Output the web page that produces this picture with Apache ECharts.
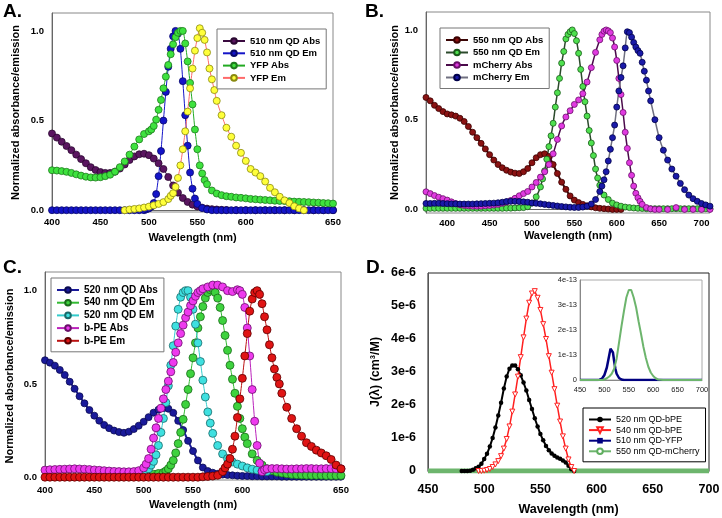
<!DOCTYPE html>
<html>
<head>
<meta charset="utf-8">
<script src="https://cdn.jsdelivr.net/npm/echarts@6/dist/echarts.min.js"></script>
<style>html,body{margin:0;padding:0;background:#fff}#chart{width:722px;height:518px}</style>
</head>
<body>
<div id="chart"></div>
<script>
// ---- tick labels ----
var ticksA = [400, 450, 500, 550, 600, 690];   // last label of panel A sits at the right edge
var ticksC = [400, 450, 500, 550, 600, 700];
var tickTextAC = ['400', '450', '500', '550', '600', '650'];
var yTicksNorm = [0, 0.5, 1.0];

// ---- panel A: 510 nm QD / YFP  [nm, normalized] ----
var aQdAbs = [[400,.428],[405,.405],[410,.382],[415,.358],[420,.335],[425,.31],[430,.285],[435,.262],[440,.24],[445,.224],[450,.213],[455,.208],[460,.208],[465,.215],[470,.232],[475,.255],[480,.28],[485,.30],[490,.312],[495,.315],[500,.307],[505,.288],[510,.262],[515,.23],[520,.185],[525,.138],[530,.098],[535,.068],[540,.046],[545,.031],[550,.021],[555,.014],[560,.009],[565,.006],[570,.004],[575,.002],[580,.001],[590,0],[600,0],[610,0],[620,0],[630,0],[640,0],[650,0],[660,0],[670,0],[680,0],[690,0]];
var aQdEm = [[400,0],[405,0],[410,0],[415,0],[420,0],[425,0],[430,0],[435,0],[440,0],[445,0],[450,0],[455,0],[460,0],[465,0],[470,0],[475,0],[480,0],[485,0],[490,0],[495,0],[497.5,.005],[500,.01],[502.5,.02],[505,.04],[507.5,.09],[510,.19],[512.5,.33],[515,.5],[517.5,.66],[520,.8],[522.5,.9],[525,.97],[527.5,1.0],[530,.985],[532.5,.9],[535,.72],[537.5,.53],[540,.36],[542.5,.21],[545,.12],[547.5,.065],[550,.035],[555,.012],[560,.004],[565,0],[570,0],[575,0],[580,0],[585,0],[590,0],[595,0],[600,0],[605,0],[610,0],[615,0],[620,0],[625,0],[630,0],[635,0],[640,0],[645,0],[650,0],[655,0],[660,0],[665,0],[670,0],[675,0],[680,0],[685,0],[690,0]];
var aYfpAbs = [[400,.223],[405,.221],[410,.218],[415,.214],[420,.208],[425,.2],[430,.193],[435,.187],[440,.183],[445,.182],[450,.184],[455,.19],[460,.198],[465,.215],[470,.24],[475,.272],[480,.31],[485,.355],[490,.395],[495,.425],[500,.44],[502.5,.45],[505,.47],[507.5,.505],[510,.56],[512.5,.615],[515,.68],[517.5,.745],[520,.81],[522.5,.87],[525,.925],[527.5,.965],[530,.99],[532.5,1.0],[535,1.0],[537.5,.93],[540,.83],[542.5,.71],[545,.59],[547.5,.45],[550,.34],[552.5,.25],[555,.205],[557.5,.168],[560,.145],[565,.11],[570,.093],[575,.084],[580,.078],[585,.075],[590,.071],[595,.069],[600,.066],[605,.063],[610,.061],[615,.059],[620,.057],[625,.055],[630,.053],[635,.052],[640,.051],[645,.05],[650,.048],[655,.047],[660,.046],[665,.045],[670,.043],[675,.042],[680,.04],[685,.039],[690,.037]];
var aYfpEm = [[475,0],[480,.004],[485,.007],[490,.01],[495,.015],[500,.02],[505,.027],[510,.035],[515,.045],[520,.062],[522.5,.08],[525,.095],[527.5,.13],[530,.18],[532.5,.25],[535,.34],[537.5,.44],[540,.55],[542.5,.68],[545,.79],[547.5,.89],[550,.96],[552.5,1.015],[555,.99],[557.5,.95],[560,.88],[562.5,.79],[565,.73],[567.5,.67],[570,.61],[575,.53],[580,.46],[585,.41],[590,.36],[595,.32],[600,.275],[605,.23],[610,.21],[615,.19],[620,.16],[625,.125],[630,.1],[635,.075],[640,.055],[645,.04],[650,.022],[655,.01],[660,0]];

// ---- panel B: 550 nm QD / mCherry ----
var bQdAbs = [[375,.624],[380,.605],[385,.58],[390,.562],[395,.545],[400,.532],[405,.527],[410,.52],[415,.508],[420,.49],[425,.462],[430,.43],[435,.4],[440,.368],[445,.337],[450,.305],[455,.275],[460,.25],[465,.232],[470,.218],[475,.208],[480,.202],[485,.2],[490,.21],[495,.228],[500,.26],[505,.288],[510,.305],[515,.31],[520,.295],[525,.25],[530,.2],[535,.152],[540,.112],[545,.075],[550,.052],[555,.038],[560,.028],[565,.02],[570,.014],[575,.009],[580,.006],[585,.004],[590,.002],[595,0],[600,0],[605,0]];
var bQdEm = [[375,.006],[380,.006],[385,.006],[390,.006],[395,.006],[400,.006],[405,.006],[410,.006],[415,.006],[420,.006],[425,.006],[430,.006],[435,.006],[440,.006],[445,.006],[450,.006],[455,.006],[460,.006],[465,.006],[470,.007],[475,.007],[480,.008],[485,.009],[490,.01],[495,.015],[500,.035],[505,.07],[510,.125],[512.5,.17],[515,.215],[517.5,.28],[520,.35],[522.5,.41],[525,.48],[527.5,.57],[530,.65],[532.5,.73],[535,.815],[537.5,.88],[540,.95],[542.5,.975],[545,.99],[547.5,1.0],[550,.98],[552.5,.94],[555,.87],[557.5,.78],[560,.685],[562.5,.6],[565,.52],[567.5,.44],[570,.37],[572.5,.3],[575,.225],[577.5,.175],[580,.135],[585,.08],[590,.055],[595,.035],[600,.025],[605,.018],[610,.013],[615,.01],[620,.008],[625,.006],[630,.005],[635,.004],[640,.004],[645,.004],[650,.004],[655,.004],[660,.004],[665,.004],[670,.004],[675,.004],[680,.004],[685,.004],[690,.004],[695,.004],[700,.004],[705,.004],[710,.004]];
var bMchAbs = [[375,.098],[380,.088],[385,.077],[390,.068],[395,.06],[400,.052],[405,.042],[410,.033],[415,.026],[420,.022],[425,.02],[430,.018],[435,.018],[440,.018],[445,.02],[450,.022],[455,.024],[460,.028],[465,.034],[470,.041],[475,.05],[480,.062],[485,.076],[490,.088],[495,.1],[500,.125],[505,.15],[510,.18],[515,.21],[520,.25],[525,.31],[530,.39],[535,.465],[540,.515],[545,.55],[550,.585],[555,.61],[560,.645],[565,.71],[570,.79],[575,.875],[580,.945],[582.5,.975],[585,.993],[587.5,1.0],[590,.995],[592.5,.985],[595,.955],[597.5,.905],[600,.83],[602.5,.73],[605,.64],[607.5,.54],[610,.43],[612.5,.34],[615,.26],[617.5,.19],[620,.13],[622.5,.09],[625,.065],[627.5,.045],[630,.028],[635,.01],[640,.003],[645,0],[650,0],[660,0],[670,.01],[680,0],[690,0],[700,0],[710,0]];
var bMchEm = [[375,.033],[380,.033],[385,.034],[390,.034],[395,.033],[400,.032],[405,.031],[410,.031],[415,.03],[420,.03],[425,.03],[430,.03],[435,.031],[440,.032],[445,.033],[450,.034],[455,.035],[460,.037],[465,.04],[470,.044],[475,.045],[480,.045],[485,.044],[490,.042],[495,.04],[500,.036],[505,.034],[510,.031],[515,.028],[520,.025],[525,.022],[530,.019],[535,.016],[540,.014],[545,.012],[550,.011],[555,.011],[560,.013],[565,.018],[570,.03],[575,.055],[580,.1],[582.5,.13],[585,.165],[587.5,.21],[590,.27],[592.5,.335],[595,.4],[597.5,.47],[600,.57],[602.5,.66],[605,.735],[607.5,.8],[610,.9],[612.5,.99],[615,.985],[617.5,.96],[620,.93],[622.5,.905],[625,.885],[627.5,.87],[630,.82],[632.5,.77],[635,.72],[637.5,.66],[640,.605],[645,.5],[650,.4],[655,.33],[660,.275],[665,.225],[670,.185],[675,.145],[680,.11],[685,.08],[690,.06],[695,.045],[700,.033],[705,.025],[710,.018]];

// ---- panel C: 520/540 nm QD / b-PE ----
var cQdAbs = [[400,.627],[405,.614],[410,.598],[415,.575],[420,.548],[425,.512],[430,.474],[435,.434],[440,.396],[445,.36],[450,.33],[455,.303],[460,.28],[465,.263],[470,.25],[475,.242],[480,.238],[485,.244],[490,.258],[495,.276],[500,.297],[505,.322],[510,.346],[515,.362],[520,.371],[525,.367],[530,.345],[535,.302],[540,.253],[545,.195],[550,.14],[555,.09],[560,.052],[565,.033],[570,.024],[575,.018],[580,.014],[585,.012],[590,.01],[595,.008],[600,.007],[605,.006],[610,.005],[615,.005],[620,.004],[625,.004],[630,.004],[635,.004],[640,.003],[645,.003],[650,.003],[655,.003],[660,.003],[665,.003],[670,.003],[675,.003],[680,.003],[685,.003],[690,.003],[695,.003],[700,.003]];
var cQd540Em = [[470,.008],[475,.008],[480,.008],[485,.008],[490,.009],[495,.01],[500,.012],[505,.014],[510,.016],[515,.02],[520,.025],[522.5,.033],[525,.045],[527.5,.065],[530,.09],[532.5,.13],[535,.18],[537.5,.24],[540,.31],[542.5,.39],[545,.47],[547.5,.555],[550,.64],[552.5,.72],[555,.8],[557.5,.86],[560,.915],[562.5,.96],[565,.99],[567.5,1.005],[570,1.01],[572.5,.99],[575,.96],[577.5,.91],[580,.84],[582.5,.76],[585,.68],[587.5,.6],[590,.525],[592.5,.45],[595,.38],[597.5,.315],[600,.26],[602.5,.215],[605,.18],[610,.125],[615,.09],[620,.065],[625,.045],[630,.035],[635,.027],[640,.022],[645,.018],[650,.015],[655,.013],[660,.012],[665,.011],[670,.01],[675,.01],[680,.01],[685,.009],[690,.009],[695,.009],[700,.009]];
var cQd520Em = [[480,.003],[485,.005],[490,.008],[495,.012],[500,.02],[502.5,.03],[505,.045],[507.5,.065],[510,.085],[512.5,.12],[515,.17],[517.5,.24],[520,.315],[522.5,.4],[525,.49],[527.5,.6],[530,.705],[532.5,.81],[535,.9],[537.5,.965],[540,.99],[542.5,1.0],[545,1.0],[547.5,.965],[550,.9],[552.5,.82],[555,.72],[557.5,.62],[560,.52],[562.5,.43],[565,.35],[567.5,.29],[570,.235],[575,.17],[580,.125],[585,.1],[590,.082],[595,.07],[600,.06],[605,.05],[610,.043],[615,.038],[620,.033],[625,.03]];
var cBpeAbs = [[400,.038],[405,.04],[410,.041],[415,.042],[420,.043],[425,.044],[430,.045],[435,.044],[440,.043],[445,.041],[450,.039],[455,.037],[460,.035],[465,.033],[470,.031],[475,.03],[480,.029],[485,.029],[490,.03],[495,.035],[500,.05],[502.5,.07],[505,.1],[507.5,.15],[510,.21],[512.5,.265],[515,.315],[517.5,.37],[520,.42],[522.5,.47],[525,.515],[527.5,.565],[530,.615],[532.5,.67],[535,.72],[537.5,.77],[540,.815],[542.5,.855],[545,.885],[547.5,.92],[550,.945],[552.5,.97],[555,.99],[557.5,1.0],[560,1.01],[565,1.02],[570,1.03],[575,1.03],[580,1.02],[585,1.0],[590,.995],[595,1.005],[597.5,1.0],[600,.98],[602.5,.91],[605,.8],[607.5,.65],[610,.47],[612.5,.3],[615,.17],[617.5,.075],[620,.03],[622.5,.04],[625,.045],[630,.046],[635,.046],[640,.045],[645,.044],[650,.044],[655,.045],[660,.045],[665,.046],[670,.046],[675,.045],[680,.045],[685,.046],[690,.046],[695,.045],[700,.045]];
var cBpeEm = [[400,0],[405,0],[410,0],[415,0],[420,0],[425,0],[430,0],[435,0],[440,0],[445,0],[450,0],[455,0],[460,0],[465,0],[470,0],[475,0],[480,0],[485,0],[490,0],[495,0],[500,0],[505,0],[510,0],[515,0],[520,0],[525,0],[530,0],[535,0],[540,0],[545,0],[550,0],[555,0],[560,.002],[565,.004],[570,.006],[575,.01],[580,.03],[582.5,.05],[585,.07],[587.5,.1],[590,.15],[592.5,.22],[595,.32],[597.5,.42],[600,.53],[602.5,.65],[605,.77],[607.5,.89],[610,.955],[612.5,.99],[615,1.0],[617.5,.98],[620,.93],[622.5,.86],[625,.79],[627.5,.71],[630,.64],[632.5,.58],[635,.535],[637.5,.5],[640,.45],[645,.375],[650,.315],[655,.26],[660,.22],[665,.185],[670,.165],[675,.145],[680,.13],[685,.115],[690,.095],[695,.065],[700,.045]];

// ---- panel D: overlap integrals, main in units of 1e-6, inset in units of 1e-13 ----
var dBpe520 = [[480,0],[482.5,0],[485,0],[487.5,.01],[490,.04],[492.5,.08],[495,.13],[497.5,.22],[500,.36],[502.5,.52],[505,.74],[507.5,1.0],[510,1.32],[512.5,1.68],[515,2.07],[517.5,2.5],[520,2.86],[522.5,3.1],[525,3.2],[527.5,3.2],[530,3.08],[532.5,2.9],[535,2.68],[537.5,2.44],[540,2.15],[542.5,1.88],[545,1.6],[547.5,1.35],[550,1.12],[552.5,.93],[555,.76],[557.5,.63],[560,.53],[562.5,.46],[565,.41],[567.5,.37],[570,.32],[572.5,.26],[575,.16],[577.5,.05],[580,0]];
var dBpe540 = [[495,0],[497.5,0],[500,.01],[502.5,.03],[505,.06],[507.5,.12],[510,.2],[512.5,.3],[515,.45],[517.5,.68],[520,.97],[522.5,1.35],[525,1.8],[527.5,2.32],[530,2.86],[532.5,3.45],[535,4.05],[537.5,4.62],[540,5.1],[542.5,5.38],[545,5.45],[547.5,5.25],[550,4.88],[552.5,4.45],[555,4.0],[557.5,3.48],[560,2.98],[562.5,2.48],[565,1.98],[567.5,1.5],[570,1.05],[572.5,.68],[575,.35],[577.5,.12],[580,0]];
var insetYfp = [[450,0],[455,0],[460,0],[465,0],[470,0],[475,0],[480,0],[485,0],[490,.01],[495,.05],[500,.2],[505,.5],[510,1.0],[512.5,1.25],[515,1.3],[517.5,1.1],[520,.75],[522.5,.45],[525,.25],[530,.08],[535,.02],[540,0],[545,0],[550,0],[555,0],[560,0],[565,0],[570,0],[575,0],[580,0],[585,0],[590,0],[595,0],[600,0],[605,0],[610,0],[615,0],[620,0],[625,0],[630,0],[635,0],[640,0],[645,0],[650,0],[655,0],[660,0],[665,0],[670,0],[675,0],[680,0],[685,0],[690,0],[695,0],[700,0]];
var insetMch = [[450,0],[455,0],[460,0],[465,0],[470,0],[475,0],[480,0],[485,0],[490,0],[495,0],[500,.02],[505,.07],[510,.14],[515,.25],[520,.45],[525,.85],[530,1.5],[535,2.15],[540,2.75],[545,3.3],[550,3.6],[552.5,3.65],[555,3.6],[560,3.3],[565,2.9],[570,2.35],[575,1.85],[580,1.32],[585,.88],[590,.53],[595,.3],[600,.16],[605,.07],[610,.02],[615,.01],[620,0],[625,0],[630,0],[635,0],[640,0],[645,0],[650,0],[655,0],[660,0],[665,0],[670,0],[675,0],[680,0],[685,0],[690,0],[695,0],[700,0]];

var FONT = 'Liberation Sans';

// 1e-13 -> 1e-6 for the main panel D (these curves sit on zero there)
function toMicro(arr) {
	return arr.map(function (p) { return [p[0], p[1] * 1e-7]; });
}

function dots(name, data, idx, fill, edge, line, size, lw) {
	return {
		name: name, type: 'line', data: data,
		xAxisIndex: idx, yAxisIndex: idx,
		smooth: 0.2, symbol: 'circle', symbolSize: size,
		itemStyle: { color: fill, borderColor: edge, borderWidth: 0.8 },
		lineStyle: { color: line, width: lw || 1 }
	};
}

function normX(idx, min, max, ticks, gap) {
	return {
		gridIndex: idx, type: 'value', min: min, max: max,
		axisLine: { lineStyle: { color: '#666' } },
		axisTick: { show: false }, splitLine: { show: false },
		axisLabel: {
			customValues: ticks, showMinLabel: true, showMaxLabel: true,
			formatter: function (v) { var i = ticks.indexOf(v); return i >= 0 ? (ticks === ticksA || ticks === ticksC ? tickTextAC[i] : String(v)) : ''; },
			color: '#000', fontWeight: 'bold', fontSize: 9.5, fontFamily: FONT, margin: 5
		},
		name: 'Wavelength (nm)', nameLocation: 'middle', nameGap: gap,
		nameTextStyle: { color: '#000', fontWeight: 'bold', fontSize: 11, fontFamily: FONT }
	};
}

function normY(idx, min, max, gap) {
	return {
		gridIndex: idx, type: 'value', min: min, max: max,
		axisLine: { show: true, lineStyle: { color: '#666' } },
		axisTick: { show: false }, splitLine: { show: false },
		axisLabel: {
			customValues: yTicksNorm,
			formatter: function (v) { return v.toFixed(1); },
			color: '#000', fontWeight: 'bold', fontSize: 9.5, fontFamily: FONT, margin: 8
		},
		name: 'Normalized absorbance/emission', nameLocation: 'middle', nameGap: gap,
		nameTextStyle: { color: '#000', fontWeight: 'bold', fontSize: 11, fontFamily: FONT }
	};
}

function legendBox(left, top, names, bold, size, gap) {
	return {
		left: left, top: top, orient: 'vertical', data: names,
		padding: [7, 6, 6, 5], itemWidth: 22, itemHeight: 7, itemGap: gap,
		textStyle: { fontSize: size, fontWeight: bold ? 'bold' : 'normal', color: '#000', fontFamily: FONT },
		borderColor: bold ? '#777' : '#000', borderWidth: 1, backgroundColor: '#fff',
		selectedMode: false
	};
}

var chart = echarts.init(document.getElementById('chart'), null, { renderer: 'canvas' });

var option = {
	animation: false,
	textStyle: { fontFamily: FONT },
	grid: [
		{ left: 52, top: 13, width: 281, height: 199, show: true, borderColor: '#888', borderWidth: 1, outerBoundsMode: 'none' },
		{ left: 426, top: 12, width: 284, height: 201, show: true, borderColor: '#888', borderWidth: 1, outerBoundsMode: 'none' },
		{ left: 45, top: 272, width: 296, height: 208, show: true, borderColor: '#888', borderWidth: 1, outerBoundsMode: 'none' },
		{ left: 428, top: 273, width: 281, height: 198, show: true, borderColor: '#222', borderWidth: 1, outerBoundsMode: 'none' },
		{ left: 580, top: 280, width: 122, height: 100, show: true, borderColor: '#aaa', borderWidth: 1, backgroundColor: '#fff', outerBoundsMode: 'none', z: 5 }
	],
	xAxis: [
		normX(0, 400, 690, ticksA, 20),
		normX(1, 375, 710, [400, 450, 500, 550, 600, 650, 700], 17),
		normX(2, 400, 700, ticksC, 19),
		{
			gridIndex: 3, type: 'value', min: 450, max: 700, interval: 50,
			axisLine: { lineStyle: { color: '#555' } }, axisTick: { show: false }, splitLine: { show: false },
			axisLabel: { color: '#000', fontWeight: 'bold', fontSize: 12.5, fontFamily: FONT, margin: 12 },
			name: 'Wavelength (nm)', nameLocation: 'middle', nameGap: 32,
			nameTextStyle: { color: '#000', fontWeight: 'bold', fontSize: 12.5, fontFamily: FONT }
		},
		{
			gridIndex: 4, type: 'value', min: 450, max: 700, interval: 50, z: 5,
			axisLine: { lineStyle: { color: '#888' } }, axisTick: { show: false }, splitLine: { show: false },
			axisLabel: { color: '#222', fontSize: 7.5, fontFamily: FONT, margin: 6 }
		}
	],
	yAxis: [
		normY(0, -0.01, 1.1, 31),
		normY(1, -0.02, 1.1, 17),
		normY(2, -0.015, 1.1, 30),
		{
			gridIndex: 3, type: 'value', min: 0, max: 6, interval: 1,
			axisLine: { show: true, lineStyle: { color: '#555' } }, axisTick: { show: false }, splitLine: { show: false },
			axisLabel: {
				formatter: function (v) { return v === 0 ? '0' : v + 'e-6'; },
				color: '#000', fontWeight: 'bold', fontSize: 12.5, fontFamily: FONT, margin: 12
			},
			name: 'J(\u03bb) (cm\u00b3/M)', nameLocation: 'middle', nameGap: 46,
			nameTextStyle: { color: '#000', fontWeight: 'bold', fontSize: 12.5, fontFamily: FONT }
		},
		{
			gridIndex: 4, type: 'value', min: 0, max: 4, interval: 1, z: 5,
			axisLine: { show: true, lineStyle: { color: '#888' } }, axisTick: { show: false }, splitLine: { show: false },
			axisLabel: {
				formatter: function (v) { return v === 0 ? '0' : v + 'e-13'; },
				color: '#222', fontSize: 7.5, fontFamily: FONT, margin: 3
			}
		}
	],
	legend: [
		legendBox(217, 29, ['510 nm QD Abs', '510 nm QD Em', 'YFP Abs', 'YFP Em'], true, 9.5, 2.3),
		legendBox(440, 28, ['550 nm QD Abs', '550 nm QD Em', 'mCherry Abs', 'mCherry Em'], true, 9.5, 2.5),
		legendBox(51, 278, ['520 nm QD Abs', '540 nm QD Em', '520 nm QD EM', 'b-PE Abs', 'b-PE Em'], true, 10, 2.7),
		legendBox(583, 408, ['520 nm QD-bPE', '540 nm QD-bPE', '510 nm QD-YFP', '550 nm QD-mCherry'], false, 9, 1.6)
	],
	graphic: [
		{ type: 'text', left: 3, top: 2, style: { text: 'A.', font: 'bold 19px ' + FONT, fill: '#000' } },
		{ type: 'text', left: 365, top: 2, style: { text: 'B.', font: 'bold 19px ' + FONT, fill: '#000' } },
		{ type: 'text', left: 3, top: 258, style: { text: 'C.', font: 'bold 19px ' + FONT, fill: '#000' } },
		{ type: 'text', left: 366, top: 258, style: { text: 'D.', font: 'bold 19px ' + FONT, fill: '#000' } }
	],
	series: [
		// A
		dots('510 nm QD Abs', aQdAbs, 0, '#5a1560', '#2a0830', '#3a0a40', 7),
		dots('510 nm QD Em', aQdEm, 0, '#1414c8', '#08086a', '#1414c8', 7),
		dots('YFP Abs', aYfpAbs, 0, '#3ee23e', '#1d7a1d', '#22aa22', 7),
		dots('YFP Em', aYfpEm, 0, '#ffff3a', '#8a8a10', '#ff6a6a', 7),
		// B
		dots('550 nm QD Abs', bQdAbs, 1, '#8a1212', '#3a0000', '#3a0505', 6, 2),
		dots('550 nm QD Em', bQdEm, 1, '#4fe04f', '#1a5a1a', '#2c4a2c', 6, 1.5),
		dots('mCherry Abs', bMchAbs, 1, '#e03ae0', '#6a106a', '#4a0a4a', 6, 1.5),
		dots('mCherry Em', bMchEm, 1, '#1a1aa8', '#00004a', '#707080', 6, 1.5),
		// C
		dots('520 nm QD Abs', cQdAbs, 2, '#1a1a9a', '#0a0a50', '#1a1a9a', 7, 2),
		dots('540 nm QD Em', cQd540Em, 2, '#3ed23e', '#1a6a1a', '#33bb33', 8),
		dots('520 nm QD EM', cQd520Em, 2, '#3ee0e0', '#1a6a6a', '#33cccc', 8),
		dots('b-PE Abs', cBpeAbs, 2, '#ee3aee', '#6a106a', '#bb22bb', 8),
		dots('b-PE Em', cBpeEm, 2, '#e01414', '#5a0000', '#bb1111', 8),
		// D main
		{
			name: '520 nm QD-bPE', type: 'line', data: dBpe520, xAxisIndex: 3, yAxisIndex: 3,
			symbol: 'circle', symbolSize: 4.5, itemStyle: { color: '#000' }, lineStyle: { color: '#000', width: 2 }
		},
		{
			name: '540 nm QD-bPE', type: 'line', data: dBpe540, xAxisIndex: 3, yAxisIndex: 3,
			symbol: 'triangle', symbolRotate: 180, symbolSize: 5,
			itemStyle: { color: '#fff', borderColor: '#ff2020', borderWidth: 1 }, lineStyle: { color: '#ff2020', width: 1.5 }
		},
		{
			name: '510 nm QD-YFP', type: 'line', data: toMicro(insetYfp), xAxisIndex: 3, yAxisIndex: 3,
			symbol: 'rect', symbolSize: 5, showSymbol: false, itemStyle: { color: '#000080' }, lineStyle: { color: '#000080', width: 2 }
		},
		{
			name: '550 nm QD-mCherry', type: 'line', data: toMicro(insetMch), xAxisIndex: 3, yAxisIndex: 3,
			symbol: 'circle', symbolSize: 5, showSymbol: false,
			itemStyle: { color: '#fff', borderColor: '#5fae5f', borderWidth: 1 }, lineStyle: { color: '#6db56d', width: 5 }
		},
		// D inset
		{
			name: '510 nm QD-YFP', type: 'line', data: insetYfp, xAxisIndex: 4, yAxisIndex: 4, z: 6,
			symbol: 'none', lineStyle: { color: '#000080', width: 2.5 }
		},
		{
			name: '550 nm QD-mCherry', type: 'line', data: insetMch, xAxisIndex: 4, yAxisIndex: 4, z: 6,
			symbol: 'none', lineStyle: { color: '#6db56d', width: 2 }
		}
	]
};

chart.setOption(option);
</script>
</body>
</html>
